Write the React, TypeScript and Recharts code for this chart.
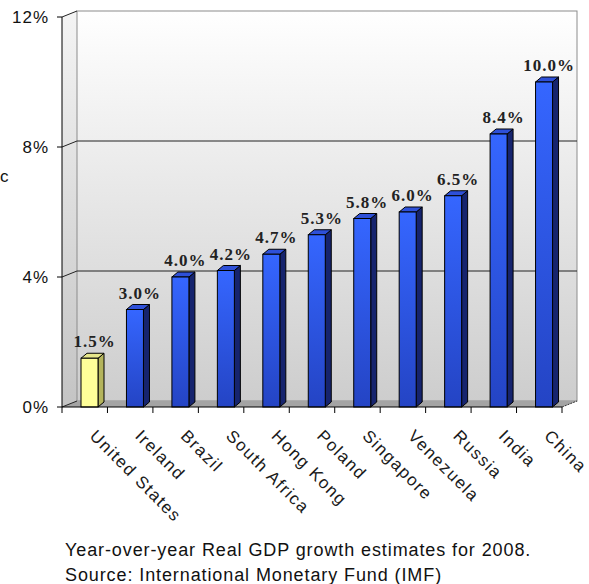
import React from 'react';
import { BarChart, Bar, XAxis, YAxis, Cell, LabelList, ReferenceArea } from 'recharts';

const countries = ['United States', 'Ireland', 'Brazil', 'South Africa', 'Hong Kong', 'Poland', 'Singapore', 'Venezuela', 'Russia', 'India', 'China'];
const growth = [1.5, 3.0, 4.0, 4.2, 4.7, 5.3, 5.8, 6.0, 6.5, 8.4, 10.0];
const yTicks = [0, 4, 8, 12];
const footer = ['Year-over-year Real GDP growth estimates for 2008.', 'Source: International Monetary Fund (IMF)'];

const data = countries.map((name, i) => ({ name, value: growth[i] }));

// depth of the fake 3d walls and bars
const WX = 15, WY = 6;
const BX = 6, BY = 5, SHIFT = 5;

const Wall = (props: any) => {
  const { x, y, width, height } = props;
  const bottom = y + height;
  const top = yTicks[yTicks.length - 1];
  return (
    <g>
      <polygon points={`${x},${y} ${x + WX},${y - WY} ${x + WX},${bottom - WY} ${x},${bottom}`} fill="url(#sideGrad)" />
      <rect x={x + WX} y={y - WY} width={width} height={height} fill="url(#wallGrad)" stroke="#8c8c8c" strokeWidth={1} />
      <polygon points={`${x},${bottom} ${x + WX},${bottom - WY} ${x + width + WX},${bottom - WY} ${x + width},${bottom}`} fill="#a4a4a4" />
      {yTicks.map((t) => {
        const yy = y + height * (1 - t / top);
        const dark = t > 0 && t < top;
        return (
          <g key={t}>
            <line x1={x} y1={yy} x2={x + WX} y2={yy - WY} stroke="#222" strokeWidth={1} />
            {dark && <line x1={x + WX} y1={yy - WY} x2={x + width + WX} y2={yy - WY} stroke="#222" strokeWidth={1} />}
          </g>
        );
      })}
      <line x1={x + width} y1={bottom} x2={x + width + WX} y2={bottom - WY} stroke="#333" strokeDasharray="2 1" />
    </g>
  );
};

const Bar3D = (props: any) => {
  const { x, y, width, height, index } = props;
  const yellow = index === 0;
  const front = yellow ? '#ffff99' : 'url(#blueGrad)';
  const side = yellow ? '#b4b45c' : '#16246e';
  const cap = yellow ? '#e6e68a' : '#2e50d8';
  const fx = x + SHIFT;
  const b = y + height;
  return (
    <g stroke="#000" strokeWidth={1}>
      <polygon points={`${fx + width},${y} ${fx + width + BX},${y - BY} ${fx + width + BX},${b - BY} ${fx + width},${b}`} fill={side} />
      <polygon points={`${fx},${y} ${fx + BX},${y - BY} ${fx + width + BX},${y - BY} ${fx + width},${y}`} fill={cap} />
      <rect x={fx} y={y} width={width} height={height} fill={front} />
    </g>
  );
};

const ValueLabel = (props: any) => {
  const { x, y, width, value } = props;
  return (
    <text x={x + SHIFT + (width + BX) / 2 + 2} y={y - 11} textAnchor="middle" fontFamily="'Liberation Serif', serif" fontWeight="bold" fontSize={17} letterSpacing={1} fill="#222">
      {value.toFixed(1)}%
    </text>
  );
};

const CountryTick = (props: any) => {
  const { x, y, payload, index } = props;
  const off = payload.offset || 0;
  const ay = y - 8;
  const tx = x + 4;
  const ty = ay + 30;
  return (
    <g>
      <line x1={x - off} y1={ay} x2={x - off} y2={ay + 6} stroke="#000" />
      {index === countries.length - 1 && <line x1={x + off} y1={ay} x2={x + off} y2={ay + 6} stroke="#000" />}
      <text x={tx} y={ty} transform={`rotate(45 ${tx} ${ty})`} textAnchor="start" fontFamily="Arial, 'Liberation Sans', sans-serif" fontSize={17} letterSpacing={1.5} fill="#1a1a1a">
        {payload.value}
      </text>
    </g>
  );
};

const App = () => {
  return (
    <div style={{ position: 'absolute', left: 0, top: 0, width: 589, height: 584, background: '#fff', overflow: 'hidden' }}>
      <svg width={0} height={0} style={{ position: 'absolute' }}>
        <defs>
          <linearGradient id="wallGrad" x1="0" y1="0" x2="0" y2="1">
            <stop offset="0%" stopColor="#ffffff" />
            <stop offset="100%" stopColor="#cdcdcd" />
          </linearGradient>
          <linearGradient id="sideGrad" x1="0" y1="0" x2="0" y2="1">
            <stop offset="0%" stopColor="#f4f4f4" />
            <stop offset="100%" stopColor="#c4c4c4" />
          </linearGradient>
          <linearGradient id="blueGrad" x1="0" y1="0" x2="0" y2="1">
            <stop offset="0%" stopColor="#3566ff" />
            <stop offset="100%" stopColor="#2444c4" />
          </linearGradient>
        </defs>
      </svg>
      <BarChart width={589} height={584} data={data} margin={{ top: 17, right: 27, left: 0, bottom: 0 }} barSize={17}>
        <ReferenceArea y1={0} y2={12} shape={<Wall />} ifOverflow="visible" />
        <XAxis dataKey="name" height={177} interval={0} tickLine={false} axisLine={{ stroke: '#000' }} tick={<CountryTick />} />
        <YAxis domain={[0, 12]} ticks={yTicks} width={62} tickSize={5} tickMargin={8} axisLine={{ stroke: '#000' }} tickLine={{ stroke: '#000' }}
          tickFormatter={(v: number) => `${v}%`}
          tick={{ fontFamily: "Arial, 'Liberation Sans', sans-serif", fontSize: 17, letterSpacing: 1, fill: '#111' }} />
        <Bar dataKey="value" isAnimationActive={false} shape={<Bar3D />}>
          {data.map((d, i) => (
            <Cell key={d.name} fill={i === 0 ? '#ffff99' : '#2f5ff0'} />
          ))}
          <LabelList dataKey="value" content={<ValueLabel />} />
        </Bar>
      </BarChart>
      <svg width={589} height={584} style={{ position: 'absolute', left: 0, top: 0, pointerEvents: 'none' }}>
        <text x={0} y={182} fontFamily="Arial, 'Liberation Sans', sans-serif" fontSize={17} fill="#111">c</text>
        {footer.map((line, i) => (
          <text key={i} x={65} y={556 + i * 25} fontFamily="Arial, 'Liberation Sans', sans-serif" fontSize={18} letterSpacing={0.9} fill="#111">{line}</text>
        ))}
      </svg>
    </div>
  );
};

export default App;
